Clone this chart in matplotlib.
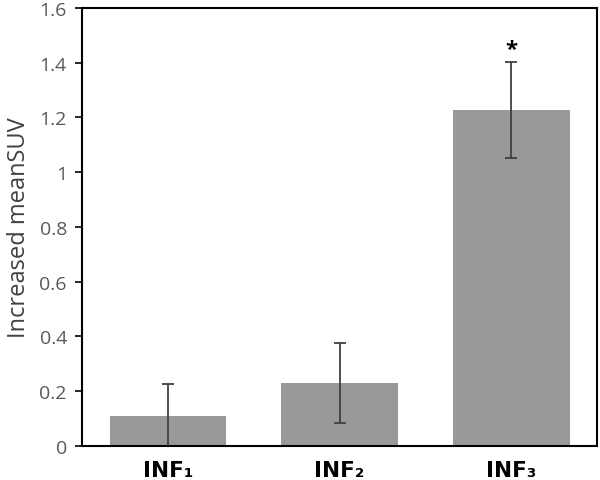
import matplotlib
matplotlib.use("Agg")
import matplotlib.pyplot as plt
from matplotlib import ticker

groups = ["INF\u2081", "INF\u2082", "INF\u2083"]
means = [0.108, 0.230, 1.228]
errs = [0.118, 0.145, 0.175]
stars = ["", "", "*"]

plt.rcParams['font.family'] = ['Open Sans', 'DejaVu Sans']

fig = plt.figure(figsize=(6, 4.81), dpi=100)
ax = fig.add_axes([0.137, 0.0707, 0.858, 0.9106])

x = range(len(groups))
ax.bar(x, means, width=0.68, color="#999999", zorder=2)
ax.errorbar(x, means, yerr=errs, fmt="none", ecolor="#404040",
            elinewidth=1.3, capsize=4, capthick=1.3, zorder=3)

for i, s in enumerate(stars):
    if s:
        ax.text(i, means[i] + errs[i] + 0.008, s, ha="center", va="bottom",
                fontsize=16, fontweight="bold", color="black")

ax.set_xlim(-0.5, 2.5)
ax.set_ylim(0, 1.6)
ax.yaxis.set_major_locator(ticker.MultipleLocator(0.2))
ax.yaxis.set_major_formatter(ticker.FuncFormatter(lambda v, p: "%g" % round(v, 2)))
ax.set_xticks(list(x))
ax.set_xticklabels(groups, fontsize=15.5, fontweight="bold", color="black",
                   family=['DejaVu Sans'])
ax.tick_params(axis="x", length=0, pad=10)
ax.tick_params(axis="y", length=5, width=1.2, labelsize=14,
               labelcolor="#595959", pad=6)
ax.set_ylabel("Increased meanSUV", fontsize=17, color="#404040", labelpad=6)
for sp in ax.spines.values():
    sp.set_linewidth(1.5)
    sp.set_color("black")

fig.savefig("out.png", dpi=100)
